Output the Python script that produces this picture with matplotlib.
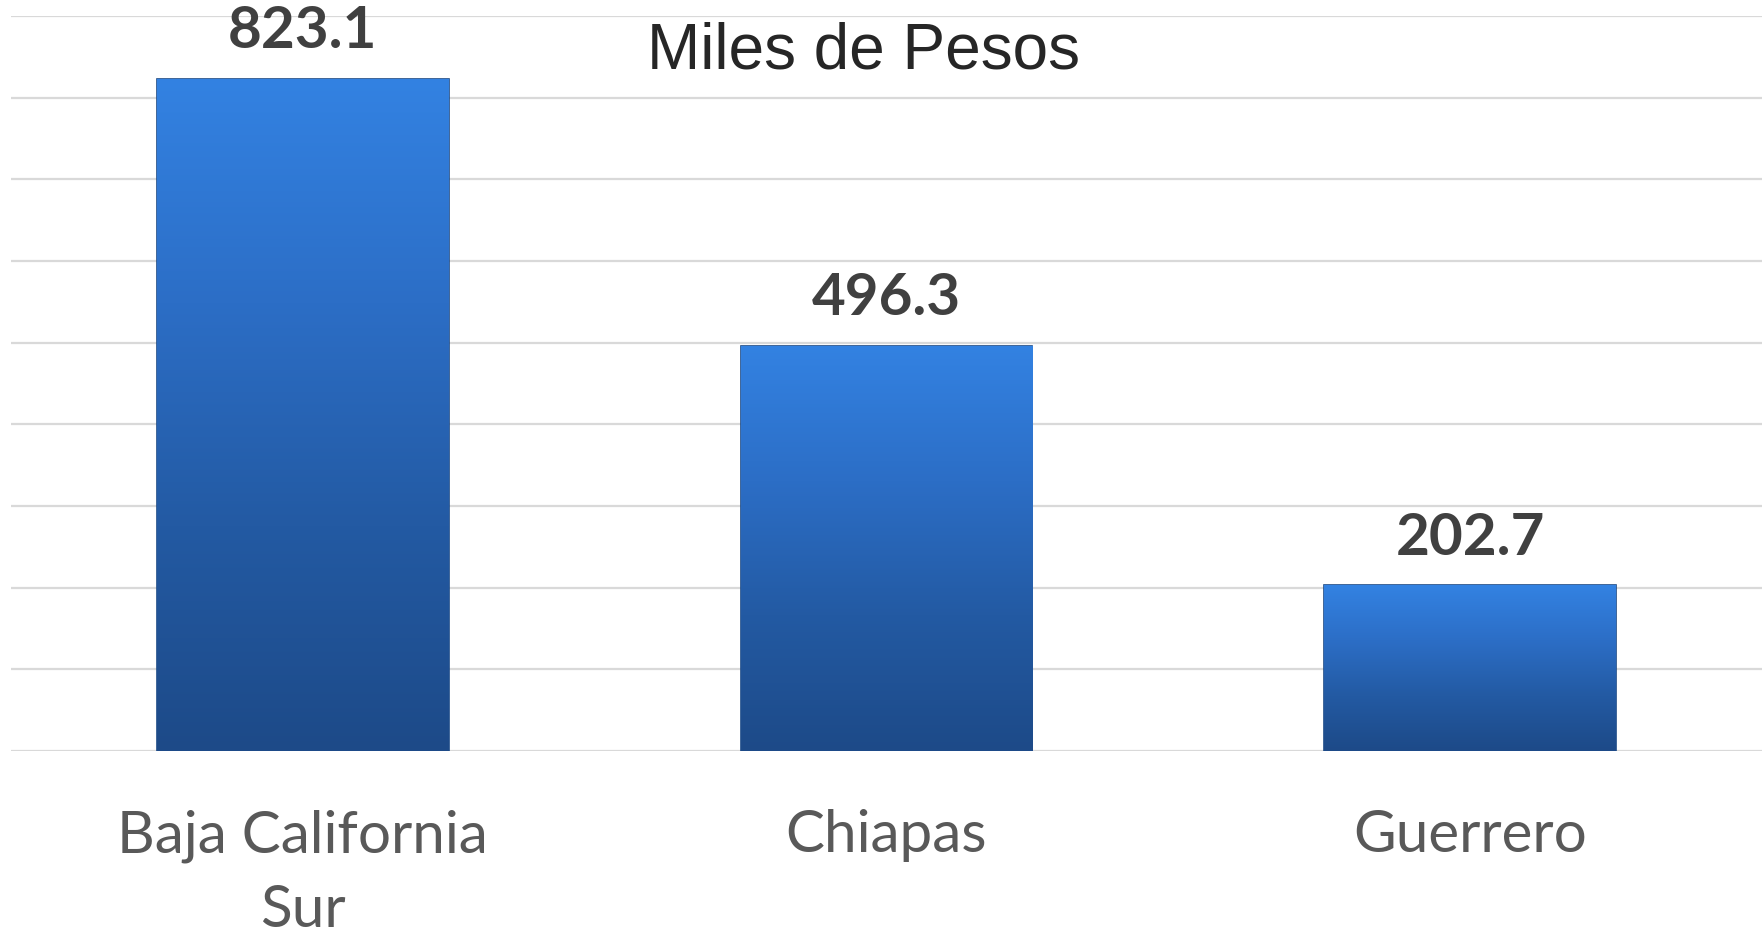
#!/usr/bin/env python3

import matplotlib
matplotlib.use("Agg")
import matplotlib.pyplot as plt
import matplotlib.colors
import numpy as np

# Data ...
states = ["Baja California\nSur", "Chiapas", "Guerrero"]
values = [823.1, 496.3, 202.7]                                                  # [miles de pesos]
yticks = list(range(0, 1000, 100))

# Create figure ...
fg = plt.figure(figsize = (17.65, 9.34), dpi = 100)
ax = fg.add_axes([0.0062, 0.196, 0.9921, 0.787])

# Gridlines ...
for y in yticks:
    ax.axhline(y, color = "#d9d9d9", linewidth = 1.6, zorder = 0)

# Bars ...
x = np.arange(len(states))
bars = ax.bar(x, values, width = 0.5, color = "#2d6fc4", edgecolor = "#1c4a86",
              linewidth = 1.2, zorder = 2)

# Vertical gradient inside each bar ...
cmap = matplotlib.colors.LinearSegmentedColormap.from_list(
    "bargrad", ["#1d4a88", "#235aa3", "#2c6ec6", "#3382e2"]
)
grad = np.linspace(0.0, 1.0, 256).reshape(-1, 1)
for bar in bars:
    x0 = bar.get_x()
    x1 = x0 + bar.get_width()
    h = bar.get_height()
    im = ax.imshow(grad, cmap = cmap, aspect = "auto", origin = "lower",
                   extent = [x0, x1, 0, h], zorder = 3)
    im.set_clip_path(bar)

# Value labels ...
for xi, v in zip(x, values):
    ax.annotate(f"{v:.1f}", (xi, v), xytext = (0, 22), textcoords = "offset points",
                ha = "center", va = "baseline", fontsize = 42, fontweight = "bold",
                family = "Lato", color = "#404040", zorder = 5)

# Title ...
fg.text(0.489, 0.945, "Miles de Pesos", ha = "center", va = "center",
        fontsize = 46, family = "Liberation Sans", color = "#262626")

# Configure axis ...
ax.set_xlim(-0.5, 2.5)
ax.set_ylim(0, 900)
ax.set_xticks(x)
ax.set_xticklabels(states, fontsize = 42, family = "Lato", color = "#595959",
                   linespacing = 1.5)
ax.tick_params(axis = "x", length = 0, pad = 42)
ax.set_yticks([])
for s in ax.spines.values():
    s.set_visible(False)

fg.savefig("out.png", dpi = 100)
plt.close(fg)
